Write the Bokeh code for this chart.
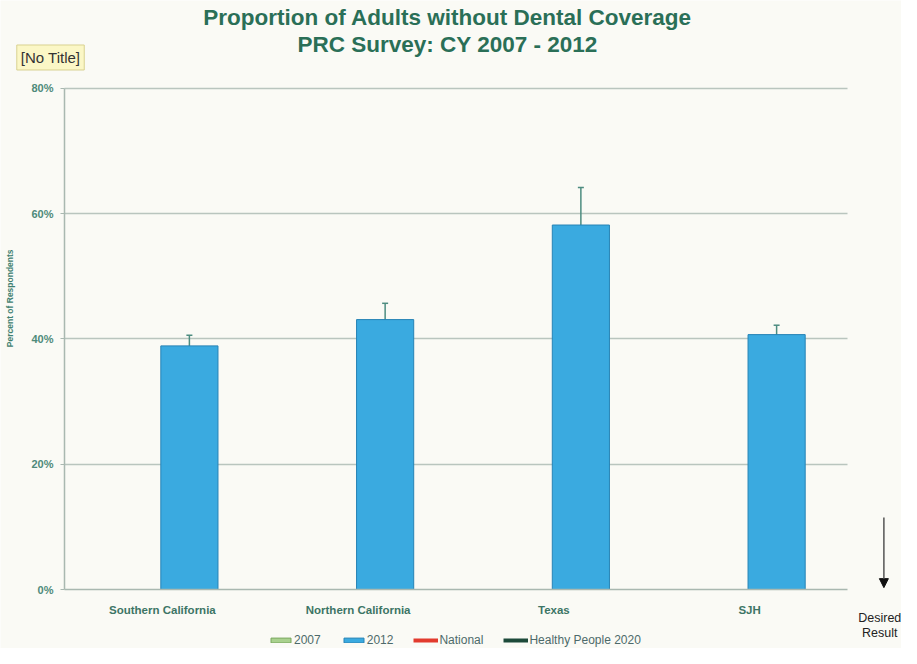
from bokeh.plotting import figure
from bokeh.models import (ColumnDataSource, Range1d, FixedTicker,
                          PrintfTickFormatter, Whisker, TeeHead, Label, Legend,
                          LegendItem, Arrow, NormalHead)
from bokeh.transform import dodge
from bokeh.embed import file_html
from bokeh.resources import INLINE

# ---- data ----
regions = ["Southern California", "Northern California", "Texas", "SJH"]
pct_2012 = [38.9, 43.1, 58.2, 40.7]
ci_upper_2012 = [40.6, 45.7, 64.2, 42.2]
ci_lower_2012 = [37.4, 40.6, 52.7, 39.4]
pct_2007 = [float("nan")] * len(regions)     # no 2007 values shown
y_ticks = [0, 20, 40, 60, 80]
series_names = ["2007", "2012", "National", "Healthy People 2020"]
title_lines = ["Proportion of Adults without Dental Coverage",
               "PRC Survey: CY 2007 - 2012"]

# category slot centres (one unit per category)
xpos = [i + 0.5 for i in range(len(regions))]
src = ColumnDataSource(dict(cat=regions, xc=xpos, top=pct_2012,
                            top07=pct_2007,
                            upper=ci_upper_2012, lower=ci_lower_2012))

BG = "#fafaf5"
GREEN_TXT = "#2a6f57"
FONT = "Liberation Sans"
n = len(regions)

# frame covers the whole canvas so that every annotation stays visible;
# axes are pinned at x=0 / y=0
p = figure(x_range=Range1d(-0.327, n + 0.276),
           y_range=Range1d(-9.42, 94.05),
           width=901, height=648, output_backend="svg",
           toolbar_location=None, title=None,
           min_border=0)
p.background_fill_color = BG
p.border_fill_color = BG
p.outline_line_color = None

# axes
p.yaxis.fixed_location = 0
p.yaxis.bounds = (0, 80)
p.yaxis.ticker = FixedTicker(ticks=y_ticks)
p.yaxis.formatter = PrintfTickFormatter(format="%d%%")
p.yaxis.axis_line_color = "#a9b8b0"
p.yaxis.axis_line_width = 1.5
p.yaxis.major_tick_out = 4
p.yaxis.major_tick_in = 0
p.yaxis.major_tick_line_color = "#a9b8b0"
p.yaxis.minor_tick_line_color = None
p.yaxis.major_label_standoff = 7
p.yaxis.major_label_text_font = FONT
p.yaxis.major_label_text_font_style = "bold"
p.yaxis.major_label_text_font_size = "11px"
p.yaxis.major_label_text_color = "#4e8a7a"

p.xaxis.fixed_location = 0
p.xaxis.bounds = (0, n)
p.xaxis.ticker = FixedTicker(ticks=xpos)
p.xaxis.major_label_overrides = {x: c for x, c in zip(xpos, regions)}
p.xaxis.axis_line_color = "#a9b8b0"
p.xaxis.axis_line_width = 1.5
p.xaxis.major_tick_line_color = None
p.xaxis.minor_tick_line_color = None
p.xaxis.major_label_standoff = 8
p.xaxis.major_label_text_font = FONT
p.xaxis.major_label_text_font_style = "bold"
p.xaxis.major_label_text_font_size = "11.5px"
p.xaxis.major_label_text_color = "#3d7565"

# grid
p.xgrid.grid_line_color = None
g = p.ygrid[0]
if "cross_bounds" in g.properties():
    g.ticker = FixedTicker(ticks=y_ticks[1:])
    g.cross_bounds = (0, n)
    g.grid_line_color = "#b9c5be"
    g.grid_line_width = 1.5
else:
    g.grid_line_color = None
    p.segment(x0=0, x1=n, y0=y_ticks[1:], y1=y_ticks[1:],
              line_color="#b9c5be", line_width=1.5)

# 2007 bars (no values) and 2012 bars
r2007 = p.vbar(x=dodge("xc", -0.138), top="top07", width=0.292, source=src,
               fill_color="#a9d18e", line_color="#78a75c")
bx = dodge("xc", 0.138)
r2012 = p.vbar(x=bx, top="top", width=0.292, source=src,
               fill_color="#3aaae0", line_color="#2683b5", line_width=1)
# error bars
wh = Whisker(source=src, base=bx, upper="upper", lower="lower",
             line_color="#4d8c80", line_width=1.5,
             upper_head=TeeHead(size=6, line_color="#4d8c80", line_width=1.5),
             lower_head=TeeHead(size=1, line_color="#4d8c80", line_alpha=0))
p.add_layout(wh)

# reference lines (no values shown) for legend entries
ref = ColumnDataSource(dict(x=[float("nan")], y=[float("nan")]))
rnat = p.line(x="x", y="y", source=ref, line_color="#e23b2e", line_width=4)
rhp = p.line(x="x", y="y", source=ref, line_color="#1d4a3a", line_width=4)

legend = Legend(items=[LegendItem(label=series_names[0], renderers=[r2007]),
                       LegendItem(label=series_names[1], renderers=[r2012]),
                       LegendItem(label=series_names[2], renderers=[rnat]),
                       LegendItem(label=series_names[3], renderers=[rhp])],
                orientation="horizontal", location=(268, 1),
                padding=0, margin=0, spacing=20,
                glyph_width=25, glyph_height=6, label_height=12,
                label_standoff=1,
                label_text_font=FONT, label_text_font_size="12px",
                label_text_color="#4d6a6a",
                border_line_color=None, background_fill_alpha=0)
p.add_layout(legend, "center")

# title lines
for txt, yy in zip(title_lines, [91.4, 87.1]):
    p.add_layout(Label(x=1.957, y=yy, text=txt, text_align="center",
                       text_baseline="alphabetic", text_font=FONT,
                       text_font_style="bold", text_font_size="22.5px",
                       text_color=GREEN_TXT))

# [No Title] tag
p.add_layout(Label(x=-0.0715, y=84.95, text="[No Title]", text_align="center",
                   text_baseline="middle", text_font=FONT,
                   text_font_size="15px", text_color="#333333",
                   background_fill_color="#fbf7c6", border_line_color="#d8d190",
                   padding=4))

# y axis title
p.add_layout(Label(x=-0.281, y=46.5, text="Percent of Respondents",
                   angle=1.5708, text_align="center", text_baseline="middle",
                   text_font=FONT, text_font_style="bold",
                   text_font_size="8.5px", text_color="#3f8070"))

# desired result arrow
p.add_layout(Arrow(x_start=4.186, y_start=11.5, x_end=4.186, y_end=0.3,
                   line_color="#555555", line_width=1.5,
                   end=NormalHead(size=9, fill_color="#111111",
                                  line_color="#111111")))
for txt, yy in zip(["Desired", "Result"], [-4.5, -6.9]):
    p.add_layout(Label(x=4.165, y=yy, text=txt, text_align="center",
                       text_baseline="alphabetic", text_font=FONT,
                       text_font_size="12.5px", text_color="#222222"))

open("out.html", "w").write(file_html(p, INLINE))
